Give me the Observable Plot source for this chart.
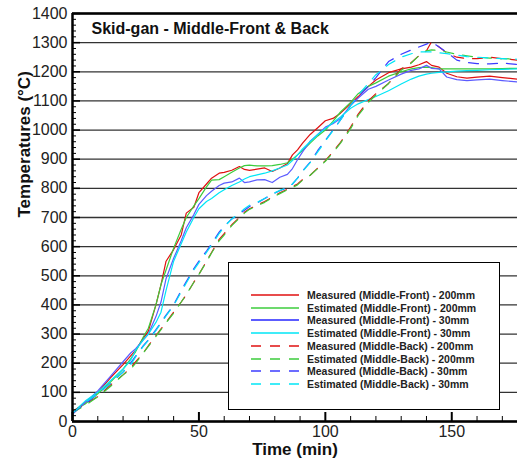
<!DOCTYPE html>
<html><head><meta charset="utf-8">
<script src="https://cdn.jsdelivr.net/npm/d3@7"></script>
<script src="https://cdn.jsdelivr.net/npm/@observablehq/plot@0.6"></script>
<style>
body{margin:0;background:#fff;font-family:"Liberation Sans",Arial,sans-serif}
#wrap{position:relative;width:517px;height:462px;overflow:hidden}
#legend{position:absolute;left:228px;top:262px;width:272px;height:148px;background:#fff;border:1px solid #000;box-sizing:border-box}
.row{position:absolute;left:22px;height:12px;display:flex;align-items:center;font-weight:bold;font-size:10.5px;color:#222;white-space:nowrap}
.row svg{margin-right:8px}
</style></head>
<body><div id="wrap"><div id="chart"></div><div id="legend"></div></div>
<script>
const time = [0,5,10,15,20,23,25,28,30,33,35,37,40,43,45,48,50,53,55,58,60,63,66,68,70,73,76,79,82,85,87,89,91,94,97,100,103,106,110,113,117,120,125,130,134,137,140,142,145,148,152,156,160,165,170,176];

const measuredFront200 = [30,65,100,150,195,225,245,285,310,400,470,550,590,640,715,735,785,815,835,852,855,862,875,865,862,866,870,858,870,885,915,932,955,985,1008,1032,1040,1058,1090,1115,1150,1172,1197,1210,1216,1224,1235,1222,1216,1195,1183,1178,1182,1185,1180,1175];
const estimatedFront200 = [35,60,95,135,180,215,240,290,320,400,470,520,595,660,700,740,765,805,828,830,840,855,870,878,880,877,877,878,882,888,900,915,930,955,980,1000,1030,1062,1095,1125,1150,1162,1185,1200,1210,1214,1216,1214,1210,1210,1210,1210,1210,1210,1211,1212];
const measuredFront30 = [25,65,105,155,205,235,250,280,300,360,410,490,560,620,665,710,745,775,790,810,818,822,835,820,822,829,830,820,838,848,868,898,925,962,985,1010,1022,1040,1085,1110,1140,1150,1172,1192,1205,1210,1222,1212,1210,1182,1173,1170,1172,1175,1170,1165];
const estimatedFront30 = [30,70,100,140,180,210,245,280,300,340,375,450,550,610,650,700,730,755,765,785,795,810,822,832,840,846,852,860,870,880,895,915,935,960,985,1005,1025,1045,1075,1090,1105,1115,1135,1158,1175,1185,1192,1195,1198,1200,1202,1204,1205,1207,1208,1210];
const measuredBack200 = [35,60,85,125,160,185,205,235,260,295,318,340,375,410,435,478,505,550,580,625,645,675,700,718,730,742,755,770,785,797,806,815,830,845,870,895,925,958,1010,1055,1100,1125,1160,1210,1232,1255,1272,1303,1285,1265,1250,1245,1245,1250,1245,1240];
const estimatedBack200 = [30,55,85,120,160,180,200,235,258,292,315,338,372,410,435,478,505,548,578,620,640,672,698,715,728,740,752,768,782,795,803,812,828,845,868,893,922,955,1005,1050,1095,1120,1160,1205,1230,1255,1272,1275,1273,1268,1260,1255,1250,1247,1245,1243];
const measuredBack30 = [30,60,95,130,170,200,225,260,280,315,340,365,400,450,480,525,550,585,610,650,670,695,712,725,738,750,765,780,792,802,815,835,860,890,930,965,1000,1035,1085,1115,1150,1180,1235,1260,1275,1285,1295,1302,1285,1267,1240,1232,1228,1227,1230,1225];
const estimatedBack30 = [30,65,95,130,170,195,222,258,278,312,338,362,398,445,475,520,545,580,605,645,668,695,715,730,742,752,765,780,793,803,815,835,858,888,925,962,998,1035,1085,1120,1160,1190,1225,1250,1262,1268,1268,1268,1265,1262,1257,1252,1250,1247,1245,1243];

const seriesNames = ["Measured (Middle-Front) - 200mm","Estimated (Middle-Front) - 200mm","Measured (Middle-Front) - 30mm","Estimated (Middle-Front) - 30mm","Measured (Middle-Back) - 200mm","Estimated (Middle-Back) - 200mm","Measured (Middle-Back) - 30mm","Estimated (Middle-Back) - 30mm"];
const seriesValues = [measuredFront200, estimatedFront200, measuredFront30, estimatedFront30, measuredBack200, estimatedBack200, measuredBack30, estimatedBack30];

const yMajor = d3.range(0, 1401, 100);
const yMinor = d3.range(0, 1401, 20).filter(v => v % 100 !== 0);
const xMajor = [0, 50, 100, 150];
const xMinor = d3.range(0, 176, 10).filter(v => v % 50 !== 0);

const styles = [
  {stroke: "#e01010", dash: null, w: 1.2},
  {stroke: "#3ccc3c", dash: null, w: 1.2},
  {stroke: "#5c5cff", dash: null, w: 1.2},
  {stroke: "#00e6f6", dash: null, w: 1.2},
  {stroke: "#e01010", dash: "10,9", w: 1.2},
  {stroke: "#3ccc3c", dash: "10,9", w: 1.2},
  {stroke: "#3c3cff", dash: "10,9", w: 1.2},
  {stroke: "#00e6f6", dash: "10,9", w: 1.2}
];

const lineMarks = seriesValues.map((vals, i) => {
  const data = time.map((t, j) => ({t, v: vals[j]}));
  return Plot.line(data, {x: "t", y: "v", stroke: styles[i].stroke, strokeWidth: styles[i].w, strokeDasharray: styles[i].dash, curve: "linear"});
});

const chart = Plot.plot({
  width: 517, height: 462,
  marginLeft: 72, marginRight: 0, marginTop: 13, marginBottom: 41,
  style: {fontFamily: "'Liberation Sans', Arial, sans-serif", fontSize: "16px", color: "#222", background: "#fff"},
  x: {domain: [0, 176]},
  y: {domain: [0, 1400]},
  marks: [
    Plot.gridY(yMajor, {stroke: "#333", strokeOpacity: 1, strokeWidth: 1.3}),
    ...lineMarks,
    Plot.axisY(yMajor, {tickSize: 0, tickPadding: 5, fontSize: 16, tickFormat: d => String(d), label: null}),
    Plot.axisX(xMajor, {tickSize: 0, tickPadding: 4, fontSize: 16, tickFormat: d => String(d), label: null}),
    Plot.tickY(yMajor, {y: d => d, insetRight: 437, stroke: "#000", strokeWidth: 1.5}),
    Plot.tickY(yMinor, {y: d => d, insetRight: 441, stroke: "#000", strokeWidth: 1}),
    Plot.tickX(xMajor, {x: d => d, insetTop: 399, stroke: "#000", strokeWidth: 2}),
    Plot.tickX(xMinor, {x: d => d, insetTop: 403, stroke: "#000", strokeWidth: 1}),
    Plot.ruleX([0], {stroke: "#000", strokeWidth: 2.5}),
    Plot.ruleY([0], {stroke: "#000", strokeWidth: 2.5}),
    Plot.ruleY([1400], {stroke: "#000", strokeWidth: 2.5}),
    Plot.text(["Skid-gan - Middle-Front & Back"], {frameAnchor: "top-left", dx: 19, dy: 9, textAnchor: "start", lineAnchor: "top", fontWeight: "bold", fontSize: 16, fill: "#111"}),
    Plot.text(["Temperatures (°C)"], {frameAnchor: "left", rotate: -90, dx: -48, lineAnchor: "middle", fontWeight: "bold", fontSize: 17, fill: "#111"}),
    Plot.text(["Time (min)"], {frameAnchor: "bottom", dy: 28, lineAnchor: "middle", fontWeight: "bold", fontSize: 17, fill: "#111"})
  ]
});
document.getElementById("chart").appendChild(chart);

const legend = document.getElementById("legend");
seriesNames.forEach((name, i) => {
  const row = document.createElement("div");
  row.className = "row";
  row.style.top = (26 + i * 12.7) + "px";
  const s = styles[i];
  const sw = i === 2 ? 2.2 : 1.5;
  row.innerHTML = `<svg width="48" height="12"><line x1="0" y1="6" x2="48" y2="6" stroke="${s.stroke}" stroke-width="${sw}" ${s.dash ? 'stroke-dasharray="10,9"' : ''}/></svg><span>${name}</span>`;
  legend.appendChild(row);
});
</script>
</body></html>
